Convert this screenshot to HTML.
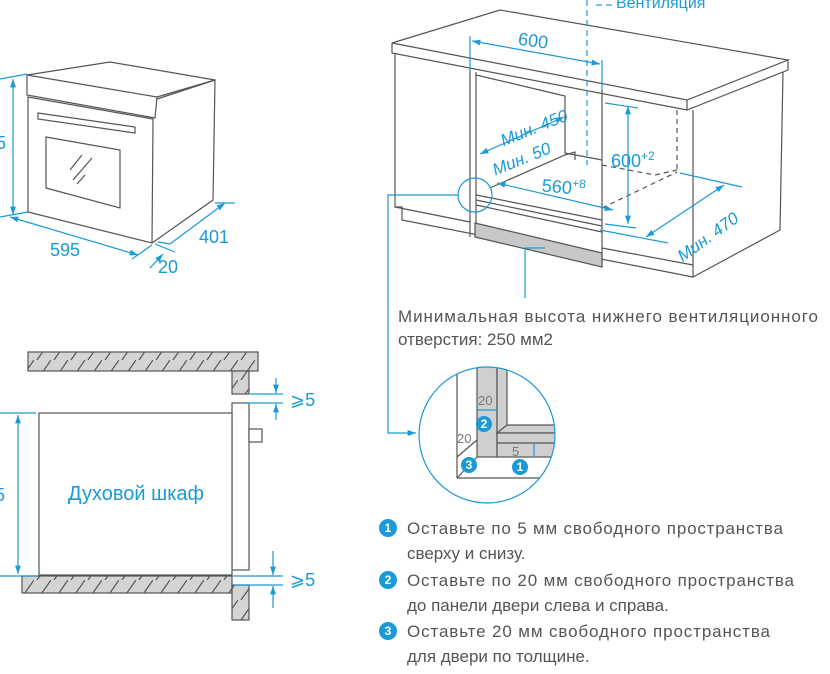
<!DOCTYPE html>
<html><head><meta charset="utf-8"><style>
html,body{margin:0;padding:0;background:#fff;width:830px;height:674px;overflow:hidden}
svg{display:block}
text{font-family:"Liberation Sans",sans-serif}
</style></head><body>
<svg width="830" height="674" viewBox="0 0 830 674" xmlns="http://www.w3.org/2000/svg">
<defs>
<marker id="a" viewBox="0 0 10 10" refX="10" refY="5" markerWidth="7" markerHeight="7" orient="auto-start-reverse"><path d="M0,1.5 L10,5 L0,8.5z" fill="#1a9ad6"/></marker>
<pattern id="h" patternUnits="userSpaceOnUse" width="17" height="20"><rect width="17" height="20" fill="#d4d4d4"/><line x1="3" y1="20" x2="17" y2="0" stroke="#555" stroke-width="1.2"/></pattern>
</defs>
<g fill="none" stroke="#555" stroke-width="1.2">
<path d="M27,75 L110,62 L215,80 L157,97 Z"/>
<path d="M27,75 L27,95 L155,118 L157,97"/>
<path d="M28,97 L28,212 L152,243 L153,119 Z"/>
<path d="M157,99 L215,80 L213,200 L152,243"/>
<path d="M38,113 L135,127 L135,133 L38,119 Z"/>
<path d="M46,137 L120,150 L120,208 L46,188 Z"/>
<path d="M70,170 L82,155 M73,180 L92,158 M77,184 L85,175"/>
</g>
<g stroke="#1a9ad6" stroke-width="1.2" fill="none">
<line x1="0" y1="79" x2="27" y2="74"/><line x1="0" y1="217" x2="28" y2="212"/>
<line x1="13" y1="79" x2="13" y2="215" marker-start="url(#a)" marker-end="url(#a)"/>
<line x1="10" y1="217" x2="138" y2="255" marker-start="url(#a)" marker-end="url(#a)"/>
<line x1="152" y1="245" x2="132" y2="259"/>
<line x1="215" y1="203" x2="235" y2="203"/>
<line x1="170" y1="244" x2="225" y2="203" marker-end="url(#a)"/>
<line x1="158" y1="242" x2="170" y2="244" />
<line x1="150" y1="268" x2="163" y2="254" marker-end="url(#a)"/>
<line x1="155" y1="244" x2="175" y2="252"/>
</g>
<g fill="#1a9ad6" font-size="18">
<text x="-4" y="149">5</text>
<text x="50" y="256">595</text>
<text x="199" y="243">401</text>
<text x="158" y="273">20</text>
</g>

<g fill="none" stroke="#555" stroke-width="1.2">
<path d="M392,43 L500,10 L788,60 L687,100 Z" fill="#fff"/>
<path d="M392,43 L392,53 L687,110 L788,70 L788,60 M687,100 L687,110"/>
<path d="M395,53 L395,207 L402,207 L402,220 L693,277 M693,110 L693,277 L780,230 L783,72"/>
<path d="M395,207 L470,222 M602,248 L693,265"/>
<line x1="470" y1="70" x2="470" y2="237"/>
<line x1="476" y1="72" x2="476" y2="223"/>
<line x1="602" y1="90" x2="602" y2="267"/>
<path d="M476,75 L565,96 L565,153 L602,160"/>
<path d="M476,195 L602,220 M476,200 L602,226 M476,205 L602,232"/>
<path d="M490,188 L565,155 L575,152 L575,160"/>
<path d="M602,165 L655,175 L677,170 M602,208 L677,172" stroke-dasharray="5,4"/>
<line x1="677" y1="110" x2="677" y2="170" stroke-dasharray="5,4"/>
<path d="M475,223 L602,253 L602,267 L475,237 Z" fill="#c8c8c8"/>
</g>
<g stroke="#1a9ad6" stroke-width="1.2" fill="none">
<line x1="587" y1="0" x2="587" y2="165" stroke-dasharray="6,4"/>
<line x1="596" y1="5" x2="602" y2="5"/><line x1="606" y1="5" x2="612" y2="5"/>
<line x1="470" y1="36" x2="470" y2="70"/><line x1="602" y1="60" x2="602" y2="90"/>
<line x1="472" y1="41" x2="600" y2="64" marker-start="url(#a)" marker-end="url(#a)"/>
<line x1="605" y1="103" x2="638" y2="108"/><line x1="605" y1="224" x2="636" y2="228"/>
<line x1="628" y1="106" x2="628" y2="224" marker-start="url(#a)" marker-end="url(#a)"/>
<line x1="497" y1="183" x2="613" y2="210" marker-start="url(#a)" marker-end="url(#a)"/>
<line x1="680" y1="173" x2="742" y2="187"/><line x1="600" y1="230" x2="668" y2="243"/>
<line x1="646" y1="237" x2="724" y2="185" marker-start="url(#a)" marker-end="url(#a)"/>
<line x1="480" y1="154" x2="564" y2="117" marker-start="url(#a)" marker-end="url(#a)"/>
<circle cx="475" cy="195" r="17"/>
<polyline points="458,195 388,195 388,433 416,433" marker-end="url(#a)"/>
<polyline points="545,248 525,248 525,298"/>
</g>
<g fill="#1a9ad6" font-size="18">
<text x="616" y="8" font-size="16">Вентиляция</text>
<text x="518" y="47" transform="rotate(8 535 42)">600</text>
<text x="611" y="167">600<tspan font-size="12" dy="-7">+2</tspan></text>
<text x="542" y="193" transform="rotate(5 560 185)">560<tspan font-size="12" dy="-7">+8</tspan></text>
<text x="498" y="137" font-style="italic" font-size="17" transform="rotate(-22 525 128)">Мин. 450</text>
<text x="490" y="167" font-style="italic" font-size="17" transform="rotate(-22 515 158)">Мин. 50</text>
<text x="663" y="248" font-style="italic" font-size="17" transform="rotate(-36 695 225)">Мин. 470</text>
</g>
<g fill="#555" font-size="17">
<text x="398" y="322" textLength="420">Минимальная высота нижнего вентиляционного</text>
<text x="398" y="345">отверстия: 250 мм2</text>
</g>

<clipPath id="c"><circle cx="487" cy="435" r="68"/></clipPath>
<g clip-path="url(#c)" stroke="#555" stroke-width="1.2">
<rect x="477" y="360" width="20" height="97" fill="#cfcfcf"/>
<rect x="497" y="360" width="10" height="73" fill="#cfcfcf"/>
<path d="M497,433 L507,425 L560,425 L560,433 Z" fill="#cfcfcf"/>
<rect x="497" y="433" width="63" height="24" fill="#cfcfcf"/>
<line x1="497" y1="443" x2="560" y2="443"/>
<line x1="457" y1="360" x2="457" y2="478" fill="none"/>
<line x1="457" y1="478" x2="560" y2="478"/>
<line x1="457" y1="478" x2="477" y2="457"/>
<line x1="457" y1="457" x2="477" y2="440"/>
</g>
<circle cx="487" cy="435" r="68" fill="none" stroke="#1a9ad6" stroke-width="1.2"/>
<g stroke="#1a9ad6" stroke-width="1.2"><line x1="477" y1="410" x2="497" y2="410"/><line x1="534" y1="444" x2="534" y2="456"/></g>
<g fill="#777" font-size="13"><text x="478" y="405">20</text><text x="457" y="443">20</text><text x="512" y="456">5</text></g>
<g font-size="12" font-weight="bold" text-anchor="middle" fill="#fff">
<circle cx="484" cy="424" r="8" fill="#1a9ad6"/><text x="484" y="428">2</text>
<circle cx="469" cy="465" r="8" fill="#1a9ad6"/><text x="469" y="469">3</text>
<circle cx="520" cy="467" r="8" fill="#1a9ad6"/><text x="520" y="471">1</text>
<circle cx="388" cy="528" r="9" fill="#1a9ad6"/><text x="388" y="532">1</text>
<circle cx="388" cy="580" r="9" fill="#1a9ad6"/><text x="388" y="584">2</text>
<circle cx="388" cy="631" r="9" fill="#1a9ad6"/><text x="388" y="635">3</text>
</g>
<g fill="#555" font-size="17">
<text x="407" y="534" textLength="376">Оставьте по 5 мм свободного пространства</text>
<text x="407" y="559">сверху и снизу.</text>
<text x="407" y="586" textLength="387">Оставьте по 20 мм свободного пространства</text>
<text x="407" y="611">до панели двери слева и справа.</text>
<text x="407" y="637" textLength="363">Оставьте 20 мм свободного пространства</text>
<text x="407" y="662">для двери по толщине.</text>
</g>

<g stroke="#555" stroke-width="1.2">
<rect x="28" y="352" width="230" height="19" fill="url(#h)"/>
<rect x="232" y="371" width="17" height="23" fill="url(#h)"/>
<rect x="232" y="403" width="17" height="167" fill="#fff"/>
<rect x="39" y="413" width="193" height="162" fill="#fff"/>
<rect x="249" y="429" width="13" height="13" fill="#fff"/>
<rect x="22" y="576" width="210" height="17" fill="url(#h)"/>
<rect x="232" y="585" width="17" height="35" fill="url(#h)"/>
</g>
<g stroke="#1a9ad6" stroke-width="1.2" fill="none">
<line x1="0" y1="413" x2="36" y2="413"/><line x1="0" y1="576" x2="36" y2="576"/>
<line x1="18" y1="415" x2="18" y2="574" marker-start="url(#a)" marker-end="url(#a)"/>
<line x1="250" y1="394" x2="283" y2="394"/><line x1="245" y1="403" x2="283" y2="403"/>
<line x1="276" y1="378" x2="276" y2="393" marker-end="url(#a)"/>
<line x1="276" y1="420" x2="276" y2="404" marker-end="url(#a)"/>
<line x1="233" y1="576" x2="283" y2="576"/><line x1="233" y1="585" x2="283" y2="585"/>
<line x1="273" y1="551" x2="273" y2="575" marker-end="url(#a)"/>
<line x1="273" y1="608" x2="273" y2="586" marker-end="url(#a)"/>
</g>
<g fill="#1a9ad6" font-size="18">
<text x="-5" y="501">5</text>
<text x="136" y="500" text-anchor="middle" font-size="20">Духовой шкаф</text>
<text x="290" y="406">⩾5</text>
<text x="290" y="586">⩾5</text>
</g>
</svg>
</body></html>
